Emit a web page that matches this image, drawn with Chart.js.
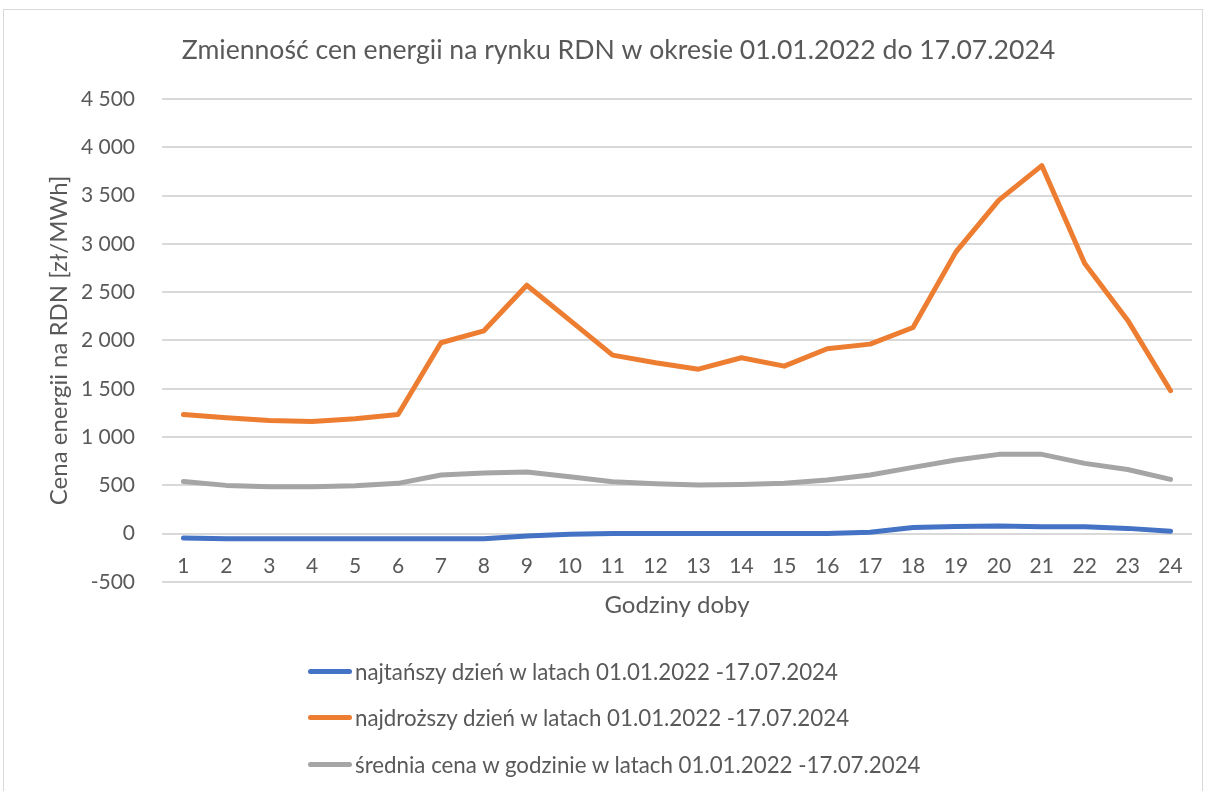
<!DOCTYPE html>
<html lang="pl">
<head>
<meta charset="utf-8">
<script src="https://cdn.jsdelivr.net/npm/chart.js@4/dist/chart.umd.min.js"></script>
<style>
  html, body { margin: 0; padding: 0; background: #fff; overflow: hidden; }
  #box {
    position: absolute; left: 3px; top: 9px;
    width: 1200px; height: 800px;
    border: 1px solid #d9d9d9; box-sizing: border-box;
  }
  #wrap { position: absolute; left: 0; top: 0; width: 1198px; height: 798px; }
  #legend {
    position: absolute; left: 304px; top: 638px;
    font-family: Lato, sans-serif; font-size: 22.3px; color: #595959;
  }
  #legend .item { display: flex; align-items: center; height: 46.5px; }
  #legend .swatch { width: 44px; height: 5px; border-radius: 3px; margin-right: 3px; }
</style>
</head>
<body>
<div id="box">
  <div id="wrap"><canvas id="rdnChart"></canvas></div>
  <div id="legend"></div>
</div>
<script>
// godziny doby
const hours = ["1","2","3","4","5","6","7","8","9","10","11","12",
               "13","14","15","16","17","18","19","20","21","22","23","24"];

// najtańszy dzień
const cheapest = [-45, -52, -52, -52, -52, -52, -52, -52, -25, -5, 2, 2,
                  2, 2, 2, 2, 15, 65, 75, 80, 72, 72, 55, 25];

// najdroższy dzień
const priciest = [1234, 1200, 1172, 1162, 1190, 1234, 1976, 2100, 2572, 2210, 1848, 1770,
                  1703, 1821, 1734, 1914, 1962, 2134, 2917, 3452, 3810, 2797, 2210, 1480];

// średnia cena w godzinie
const average = [541, 500, 486, 486, 497, 521, 607, 628, 638, 590, 538, 517,
                 503, 510, 521, 555, 607, 686, 762, 821, 821, 728, 665, 562];

const seriesNames = [
  "najtańszy dzień w latach 01.01.2022 -17.07.2024",
  "najdroższy dzień w latach 01.01.2022 -17.07.2024",
  "średnia cena w godzinie w latach 01.01.2022 -17.07.2024"
];
const seriesColors = ["#4472C4", "#ED7D31", "#A5A5A5"];

const textColor = "#595959";
const fontName = "Lato, sans-serif";

function lineSet(i, data) {
  return {
    label: seriesNames[i],
    data: data,
    borderColor: seriesColors[i],
    backgroundColor: seriesColors[i],
    borderWidth: 5,
    borderCapStyle: "round",
    borderJoinStyle: "round",
    pointRadius: 0,
    tension: 0,
  };
}

// liczby w formacie "4 500"
function fmt(v) {
  return String(v).replace(/\B(?=(\d{3})+(?!\d))/g, " ");
}

const chart = new Chart(document.getElementById("rdnChart"), {
  type: "line",
  data: {
    labels: hours,
    datasets: [lineSet(0, cheapest), lineSet(1, priciest), lineSet(2, average)],
  },
  options: {
    responsive: true,
    maintainAspectRatio: false,
    animation: false,
    layout: { padding: { left: 41, right: 10, top: 0, bottom: 226 } },
    plugins: {
      legend: { display: false },
      tooltip: { enabled: false },
      title: {
        display: true,
        text: "Zmienność cen energii na rynku RDN w okresie 01.01.2022 do 17.07.2024",
        color: textColor,
        font: { family: fontName, size: 26.6, weight: "normal" },
        padding: { top: 24, bottom: 33 },
      },
    },
    scales: {
      x: {
        position: { y: 0 },
        offset: true,
        grid: { display: false, offset: true },
        border: { display: false },
        ticks: { color: textColor, font: { family: fontName, size: 21 }, padding: 12 },
        title: {
          display: true,
          text: "Godziny doby",
          color: textColor,
          font: { family: fontName, size: 24 },
          padding: { top: 0 },
        },
      },
      y: {
        min: -500,
        max: 4500,
        grid: { color: "#d9d9d9", lineWidth: 2, drawTicks: false },
        border: { display: false },
        ticks: {
          stepSize: 500,
          padding: 27,
          color: textColor,
          font: { family: fontName, size: 21 },
          callback: (v) => fmt(v),
        },
        title: {
          display: true,
          text: "Cena energii na RDN [zł/MWh]",
          color: textColor,
          font: { family: fontName, size: 24 },
          padding: 0,
        },
        afterFit: (scale) => { scale.width = 117; },
      },
    },
  },
});

// legenda w kolumnie, jak w oryginale
const legendBox = document.getElementById("legend");
chart.data.datasets.forEach((ds) => {
  const row = document.createElement("div");
  row.className = "item";
  const sw = document.createElement("span");
  sw.className = "swatch";
  sw.style.background = ds.borderColor;
  const tx = document.createElement("span");
  tx.textContent = ds.label;
  row.appendChild(sw);
  row.appendChild(tx);
  legendBox.appendChild(row);
});
</script>
</body>
</html>
